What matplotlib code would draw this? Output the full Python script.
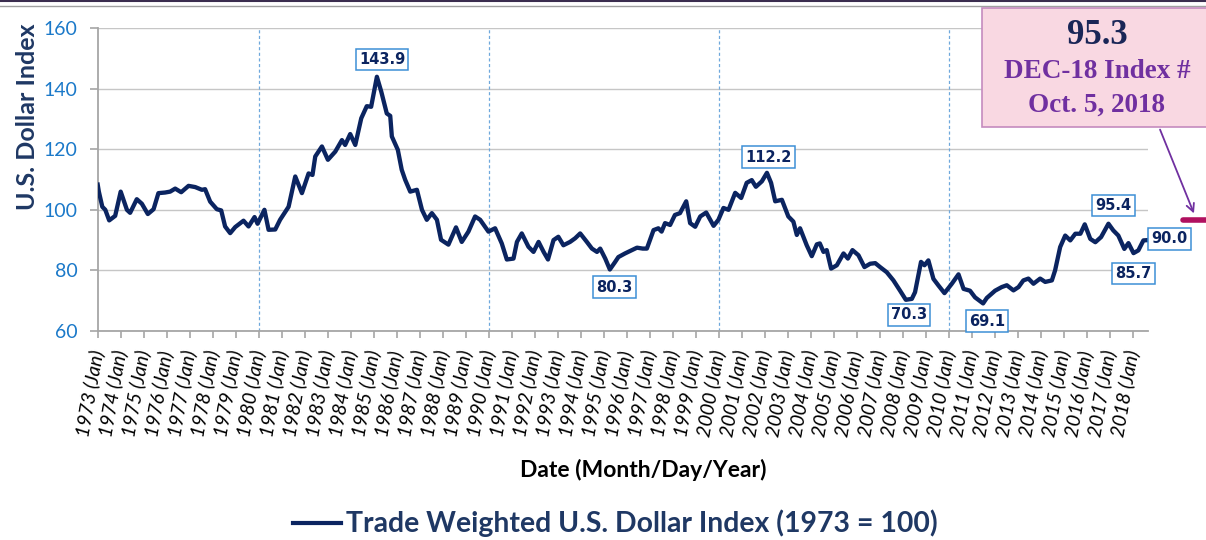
import matplotlib
matplotlib.use("Agg")
import matplotlib.pyplot as plt
from matplotlib.patches import Rectangle, FancyArrowPatch
from matplotlib.lines import Line2D

# ---------------- data ----------------
dates = [1973.00, 1973.05, 1973.20, 1973.33, 1973.50, 1973.76, 1974.00, 1974.27, 1974.41, 1974.70,
         1974.92, 1975.18, 1975.43, 1975.64, 1975.93, 1976.15, 1976.37, 1976.63, 1976.95, 1977.24,
         1977.53, 1977.67, 1977.89, 1978.18, 1978.37, 1978.54, 1978.76, 1978.98, 1979.34, 1979.56,
         1979.82, 1979.95, 1980.25, 1980.43, 1980.72, 1980.93, 1981.30, 1981.59, 1981.88, 1982.17,
         1982.34, 1982.46, 1982.75, 1983.01, 1983.33, 1983.62, 1983.76, 1983.98, 1984.20, 1984.46,
         1984.70, 1984.89, 1985.14, 1985.33, 1985.57, 1985.72, 1985.79, 1986.05, 1986.22, 1986.37,
         1986.59, 1986.88, 1987.10, 1987.31, 1987.53, 1987.75, 1987.93, 1988.25, 1988.58, 1988.83,
         1989.12, 1989.41, 1989.63, 1989.99, 1990.28, 1990.57, 1990.79, 1991.08, 1991.23, 1991.44,
         1991.73, 1991.95, 1992.17, 1992.39, 1992.58, 1992.82, 1993.03, 1993.25, 1993.54, 1993.76,
         1993.98, 1994.27, 1994.49, 1994.71, 1994.85, 1995.07, 1995.27, 1995.50, 1995.64, 1995.93,
         1996.23, 1996.45, 1996.70, 1996.88, 1997.17, 1997.38, 1997.52, 1997.67, 1997.89, 1998.10,
         1998.32, 1998.59, 1998.76, 1998.98, 1999.20, 1999.46, 1999.78, 1999.99, 2000.21, 2000.43,
         2000.72, 2000.98, 2001.22, 2001.44, 2001.62, 2001.88, 2002.10, 2002.28, 2002.46, 2002.75,
         2003.03, 2003.25, 2003.40, 2003.54, 2003.83, 2004.05, 2004.27, 2004.40, 2004.56, 2004.70,
         2004.89, 2005.14, 2005.43, 2005.62, 2005.82, 2006.08, 2006.34, 2006.59, 2006.81, 2007.02,
         2007.31, 2007.60, 2007.89, 2008.14, 2008.40, 2008.54, 2008.80, 2008.95, 2009.12, 2009.34,
         2009.56, 2009.82, 2010.14, 2010.43, 2010.65, 2010.93, 2011.15, 2011.50, 2011.66, 2012.02,
         2012.31, 2012.53, 2012.82, 2013.04, 2013.25, 2013.47, 2013.69, 2013.98, 2014.20, 2014.49,
         2014.63, 2014.85, 2015.07, 2015.29, 2015.51, 2015.73, 2015.92, 2016.16, 2016.38, 2016.63,
         2016.95, 2017.16, 2017.38, 2017.64, 2017.82, 2018.04, 2018.25, 2018.47, 2018.66]
index_values = [108.3, 106.0, 101.0, 100.0, 96.5, 98.0, 106.0, 100.0, 99.0, 103.5,
                102.0, 98.6, 100.2, 105.5, 105.7, 106.0, 107.0, 105.8, 107.9, 107.5,
                106.6, 106.8, 102.7, 100.2, 99.8, 94.5, 92.3, 94.3, 96.4, 94.5,
                97.6, 95.4, 100.0, 93.4, 93.5, 96.7, 101.0, 111.0, 105.5, 112.0,
                111.5, 117.6, 120.9, 116.5, 119.2, 123.0, 121.4, 125.0, 121.4, 130.2,
                134.2, 134.0, 143.9, 139.0, 131.8, 131.0, 124.2, 119.8, 113.2, 109.9,
                106.0, 106.6, 100.0, 96.7, 98.9, 96.7, 90.1, 88.5, 94.2, 89.4,
                92.8, 97.8, 96.7, 92.8, 93.9, 88.9, 83.6, 83.9, 89.4, 92.2,
                87.8, 86.1, 89.4, 86.1, 83.6, 90.0, 91.1, 88.3, 89.4, 90.6,
                92.2, 89.4, 87.2, 86.1, 87.2, 83.9, 80.3, 82.8, 84.4, 85.6,
                86.7, 87.5, 87.2, 87.2, 93.3, 93.9, 92.8, 95.6, 95.0, 98.3,
                98.9, 102.8, 95.6, 94.4, 97.8, 99.1, 94.7, 96.7, 100.6, 100.0,
                105.6, 103.9, 108.9, 109.8, 107.6, 109.4, 112.2, 108.9, 102.8, 103.3,
                97.8, 96.1, 91.7, 93.9, 88.3, 84.7, 88.6, 88.9, 86.1, 86.7,
                80.6, 81.7, 85.6, 83.9, 86.7, 85.0, 81.1, 82.2, 82.4, 81.1,
                79.4, 76.7, 73.3, 70.3, 70.6, 72.8, 82.8, 81.7, 83.3, 77.2,
                75.0, 72.5, 75.6, 78.7, 73.9, 73.3, 71.1, 69.1, 70.9, 73.3,
                74.5, 75.1, 73.4, 74.5, 76.7, 77.3, 75.6, 77.3, 76.2, 76.7,
                80.0, 87.7, 91.5, 89.9, 92.1, 92.1, 95.2, 90.4, 89.3, 91.0,
                95.4, 93.2, 91.5, 87.1, 89.0, 85.7, 86.6, 89.9, 90.0]

tick_years = list(range(1973, 2019))
tick_labels = [f"{y} (Jan)" for y in tick_years]
decade_lines = [1980, 1990, 2000, 2010]

# annotation labels: (text, x-date, y-value of label centre)
callouts = [("143.9", 1985.36, 149.6), ("80.3", 1995.48, 74.5), ("112.2", 2002.17, 117.4),
            ("70.3", 2008.28, 65.3), ("69.1", 2011.67, 63.3), ("95.4", 2017.17, 101.4),
            ("85.7", 2018.04, 78.9), ("90.0", 2019.60, 90.4)]

legend_label = "Trade Weighted U.S. Dollar Index (1973 = 100)"
box_lines = ["95.3", "DEC-18 Index #", "Oct. 5, 2018"]

# ---------------- figure ----------------
W, H = 1206, 540
fig = plt.figure(figsize=(W / 100, H / 100), dpi=100)
plt.rcParams['font.family'] = ['Lato', 'DejaVu Sans']

def fx(px):
    return px / W

def fy(py):
    return 1 - py / H

ax = fig.add_axes([fx(97.7), fy(331), fx(1148) - fx(97.7), fy(28) - fy(331)])
navy = '#0b2460'
ax.plot(dates, index_values, color=navy, lw=3.1, solid_joinstyle='round', zorder=3)

ax.set_xlim(1973.0, 2018.67)
ax.set_ylim(60, 160)
ax.set_yticks(range(60, 161, 20))
ax.yaxis.grid(True, color='#c6c6c6', lw=1.0)
ax.set_axisbelow(True)
for s in ['top', 'right']:
    ax.spines[s].set_visible(False)
for s in ['left', 'bottom']:
    ax.spines[s].set_color('#a6a6a6')
    ax.spines[s].set_linewidth(1.3)

ax.tick_params(axis='y', colors='#a6a6a6', length=5.5, width=1.2, pad=9,
               labelcolor='#1b79c9', labelsize=14)
ax.set_xticks(tick_years)
ax.set_xticklabels(tick_labels, rotation=80, rotation_mode='anchor', ha='right', va='center',
                   fontsize=14, style='italic')
ax.tick_params(axis='x', colors='#a6a6a6', length=5, width=1.2, pad=9, labelcolor='black')

for d in decade_lines:
    ax.axvline(d, color='#6fa8dc', lw=0.9, ls=(0, (2.5, 2)), zorder=2)

for txt, xd, yv in callouts:
    ax.text(xd, yv, txt, ha='center', va='center', fontsize=10.5, fontweight='bold',
            color=navy, clip_on=False, zorder=5, family='DejaVu Sans',
            bbox=dict(boxstyle='square,pad=0.22', fc='white', ec='#3d8fd6', lw=1.1))

# axis titles
fig.text(fx(28), fy(117), "U.S. Dollar Index", rotation=90, ha='center', va='center',
         fontsize=18, fontweight='bold', color='#1f3864')
fig.text(fx(643), fy(470), "Date (Month/Day/Year)", ha='center', va='center',
         fontsize=16.5, fontweight='bold', color='black')

# legend
fig.add_artist(Line2D([fx(293), fx(341)], [fy(523), fy(523)], color=navy, lw=3))
fig.text(fx(346), fy(523), legend_label, ha='left', va='center', fontsize=20.4,
         fontweight='bold', color='#1f3864')

# top border lines
fig.add_artist(Line2D([0, 1], [fy(0.7), fy(0.7)], color='#3b2d4f', lw=1.5))
fig.add_artist(Line2D([0, 1], [fy(5.5), fy(5.5)], color='#a0a0a0', lw=1.0))

# pink callout box
fig.add_artist(Rectangle((fx(982), fy(127)), fx(240), fy(8) - fy(127), transform=fig.transFigure,
                         fc='#f9d8e2', ec='#c58bbf', lw=1.2, zorder=10))
fig.text(fx(1097), fy(35), box_lines[0], ha='center', va='center', fontsize=25,
         fontweight='bold', color='#1a2657', family='Liberation Serif', zorder=11)
fig.text(fx(1097), fy(72), box_lines[1], ha='center', va='center', fontsize=19.5,
         fontweight='bold', color='#7030a0', family='Liberation Serif', zorder=11)
fig.text(fx(1097), fy(105), box_lines[2], ha='center', va='center', fontsize=19.5,
         fontweight='bold', color='#7030a0', family='Liberation Serif', zorder=11)

fig.add_artist(FancyArrowPatch((fx(1159), fy(127)), (fx(1195), fy(216)),
                               transform=fig.transFigure, arrowstyle='->', mutation_scale=14,
                               color='#7030a0', lw=1.3, zorder=11))
fig.add_artist(Line2D([fx(1183), fx(1210)], [fy(220), fy(220)], color='#b0105f', lw=4,
                      solid_capstyle='round', zorder=11))

fig.savefig("out.png", dpi=100, facecolor='white')
